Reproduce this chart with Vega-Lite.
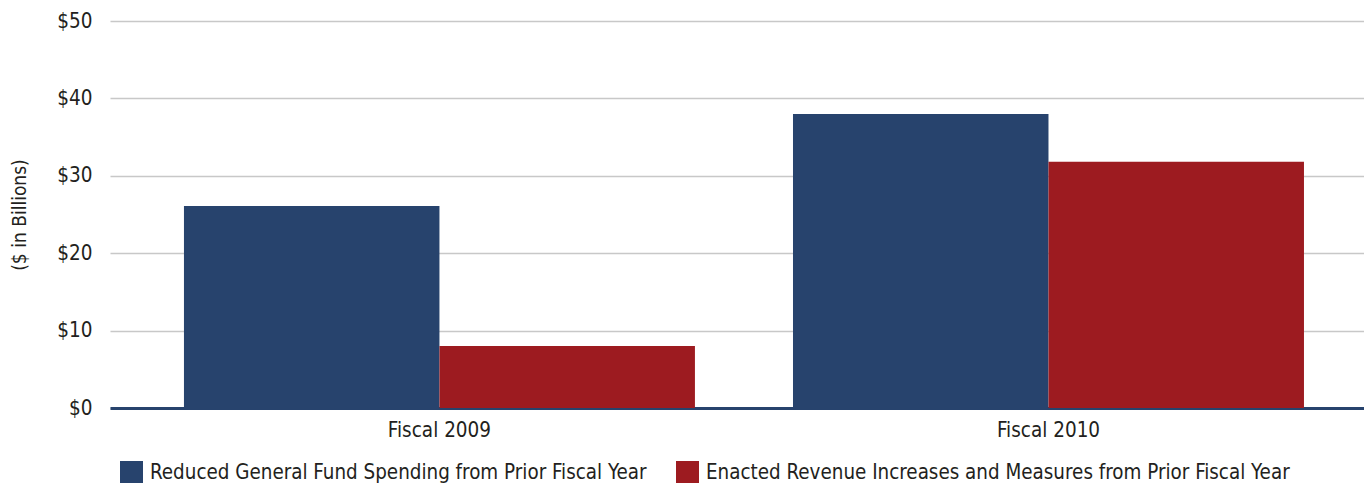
{
  "$schema": "https://vega.github.io/schema/vega-lite/v6.json",
  "autosize": "none",
  "width": 1254,
  "height": 387,
  "padding": {"left": 110, "top": 21, "right": 0, "bottom": 75},
  "background": "white",
  "config": {
    "view": {"stroke": null},
    "font": "'DejaVu Sans Condensed', 'Roboto Condensed', Roboto, sans-serif",
    "axis": {"labelFont": "'DejaVu Sans Condensed', 'Roboto Condensed', Roboto, sans-serif", "titleFont": "'DejaVu Sans Condensed', 'Roboto Condensed', Roboto, sans-serif", "labelColor": "#231f20", "titleColor": "#231f20"},
    "legend": {"labelFont": "'DejaVu Sans Condensed', 'Roboto Condensed', Roboto, sans-serif", "labelColor": "#231f20"}
  },
  "data": {
    "values": [
      {"year": "Fiscal 2009", "series": "Reduced General Fund Spending from Prior Fiscal Year", "value": 26.1},
      {"year": "Fiscal 2009", "series": "Enacted Revenue Increases and Measures from Prior Fiscal Year", "value": 8.0},
      {"year": "Fiscal 2010", "series": "Reduced General Fund Spending from Prior Fiscal Year", "value": 38.0},
      {"year": "Fiscal 2010", "series": "Enacted Revenue Increases and Measures from Prior Fiscal Year", "value": 31.8}
    ]
  },
  "mark": {"type": "bar"},
  "encoding": {
    "x": {
      "field": "year", "type": "nominal",
      "scale": {"paddingInner": 0.161, "paddingOuter": 0.11, "align": 0.552},
      "axis": {"title": null, "labelAngle": 0, "labelFontSize": 20.5, "labelPadding": 12, "ticks": false, "domainColor": "#27436d", "domainWidth": 3}
    },
    "xOffset": {
      "field": "series", "type": "nominal",
      "sort": ["Reduced General Fund Spending from Prior Fiscal Year", "Enacted Revenue Increases and Measures from Prior Fiscal Year"],
      "scale": {"paddingInner": 0, "paddingOuter": 0}
    },
    "y": {
      "field": "value", "type": "quantitative",
      "scale": {"domain": [0, 50]},
      "axis": {
        "title": "($ in Billions)", "titleFontSize": 19, "titleFontWeight": "normal", "titlePadding": 27,
        "values": [0, 10, 20, 30, 40, 50], "labelExpr": "'$' + datum.value",
        "labelFontSize": 20.5, "labelPadding": 18, "ticks": false, "domain": false,
        "gridColor": "#c8c8c8", "gridWidth": 1.5
      }
    },
    "color": {
      "field": "series", "type": "nominal",
      "sort": ["Reduced General Fund Spending from Prior Fiscal Year", "Enacted Revenue Increases and Measures from Prior Fiscal Year"],
      "scale": {"range": ["#27436d", "#9d1b20"]},
      "legend": {
        "title": null, "orient": "none", "direction": "horizontal", "columns": 2,
        "legendX": 10, "legendY": 440,
        "symbolType": "square", "symbolSize": 529, "symbolStrokeWidth": 0, "symbolOpacity": 1,
        "labelFontSize": 20.4, "labelOffset": 7, "columnPadding": 29, "labelLimit": 0
      }
    }
  }
}
